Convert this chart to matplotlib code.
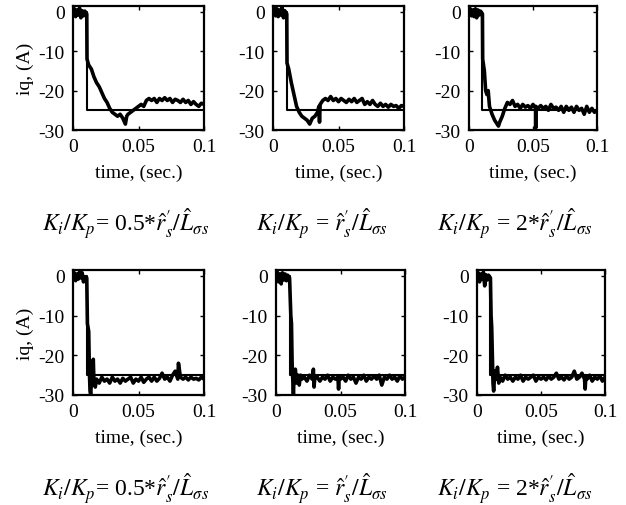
import matplotlib
matplotlib.use("Agg")
import matplotlib.pyplot as plt

plt.rcParams['font.family'] = ['Liberation Serif', 'DejaVu Serif']
plt.rcParams['mathtext.fontset'] = 'stix'
plt.rcParams['axes.unicode_minus'] = False

# reference step command
t_ref = [0, 0.0105, 0.0105, 0.1]
i_ref = [0, 0, -25, -25]

# measured iq, top row
t_a1 = [0, .001, .002, .003, .004, .005, .006, .007, .008, .009,
        .0105, .0107, .012, .014, .016, .018, .020, .022, .024, .026,
        .028, .030, .032, .034, .036, .038, .040, .041, .042, .044,
        .046, .048, .050, .052, .054, .056, .058, .060, .062, .064,
        .066, .068, .070, .072, .074, .076, .078, .080, .082, .084,
        .086, .088, .090, .092, .094, .096, .098, .100]
i_a1 = [-0.5, 0.8, -1.2, 0.5, -0.8, 1.0, -1.5, 0.3, -1.0, 0.2,
        -0.5, -12, -13.5, -14.5, -16.5, -18, -19, -20.5, -22, -23,
        -24.5, -25.5, -26, -26.5, -26, -27, -28.5, -26.5, -26, -25.5,
        -25, -24.5, -24, -23.5, -24, -22.5, -22, -22.5, -22, -23,
        -22, -22.5, -21.8, -22.5, -22, -23, -22.2, -22.5, -23, -22.2,
        -23, -22.5, -23.5, -22.8, -23.5, -24, -23.2, -23.5]

t_a2 = [0, .001, .002, .003, .004, .005, .006, .007, .008, .009,
        .0105, .0107, .012, .014, .016, .018, .020, .022, .024, .026,
        .028, .030, .032, .034, .035, .0355, .036, .038, .040, .042,
        .044, .046, .048, .050, .052, .054, .056, .058, .060, .062,
        .064, .066, .068, .070, .072, .074, .076, .078, .080, .082,
        .084, .086, .088, .090, .092, .094, .096, .098, .100]
i_a2 = [-0.5, 1.0, -1.0, 0.8, -1.2, 0.5, -0.8, 1.2, -1.5, 0.3,
        -0.5, -13, -14.5, -18, -21, -24, -25.5, -26.5, -27, -27.5,
        -28.5, -27, -26.5, -25.5, -24, -28, -23.5, -22.5, -22, -22.5,
        -21.5, -22.5, -22, -22.8, -22, -22.5, -23, -22.2, -22.8, -22,
        -23, -22.5, -22, -23.5, -22.8, -23.5, -22.5, -23.5, -24, -23.2,
        -24, -23.5, -24.2, -23.5, -24, -23.8, -24.5, -23.8, -24]

t_a3 = [0, .001, .002, .003, .004, .005, .006, .007, .008, .009,
        .0105, .0107, .012, .013, .014, .015, .016, .018, .020, .022,
        .023, .024, .026, .028, .030, .032, .034, .036, .038, .040,
        .042, .044, .046, .048, .050, .052, .0521, .0522, .054, .056,
        .058, .060, .062, .064, .066, .068, .070, .072, .074, .076,
        .078, .080, .082, .084, .086, .088, .090, .092, .094, .096,
        .098, .100]
i_a3 = [-0.5, 0.8, -1.0, 0.5, -1.2, 0.8, -1.5, 0.5, -0.8, 0.2,
        -0.5, -12, -15, -20, -21, -20, -24, -26, -27.5, -28.5,
        -29, -28, -26.5, -24.5, -23, -23.5, -22.5, -24, -23.5, -24.5,
        -23.5, -24.2, -23.8, -24.5, -23.5, -24.5, -29.5, -24, -24.5, -23.8,
        -24.5, -24, -25, -23.5, -24.5, -24.2, -25, -24, -25.5, -24,
        -25, -24.2, -25.5, -24, -25, -24.5, -26, -24, -25.5, -24.5,
        -25.5, -25]

# measured iq, bottom row
t_b1 = [0, .001, .002, .003, .004, .005, .006, .007, .008, .009,
        .0105, .011, .012, .0125, .013, .0135, .014, .015, .0155, .016,
        .017, .018, .020, .022, .024, .026, .028, .030, .032, .034,
        .036, .038, .040, .042, .044, .046, .048, .050, .052, .054,
        .056, .058, .060, .062, .064, .066, .068, .070, .072, .074,
        .076, .078, .080, .0805, .082, .084, .086, .088, .090, .092,
        .094, .096, .098, .100]
i_b1 = [-0.5, 0.8, -1.2, 0.5, -0.8, 1.0, -0.5, 0.8, -1.5, -0.2,
        -0.5, -12, -14, -24, -29, -30, -27, -22, -21, -27,
        -28, -26, -27, -25.5, -26.5, -26, -27, -25.5, -26.5, -26,
        -27, -25.8, -26.5, -26, -25.5, -27, -26, -26.5, -25.5, -26.8,
        -26, -25.5, -26.5, -25.5, -26.5, -25.8, -24.5, -26, -25.5, -26.5,
        -25, -24, -26, -22, -25.5, -26, -25.5, -26.2, -25.5, -26,
        -25.8, -26.2, -25.5, -26]

t_b2 = [0, .001, .002, .003, .004, .005, .006, .007, .008, .009,
        .0105, .0115, .012, .0125, .013, .0135, .014, .015, .016, .017,
        .018, .019, .020, .022, .024, .026, .028, .029, .0295, .030,
        .032, .034, .036, .038, .040, .042, .044, .046, .048, .0485,
        .049, .050, .052, .054, .056, .058, .060, .062, .064, .066,
        .068, .070, .072, .074, .076, .078, .080, .082, .084, .086,
        .088, .090, .092, .094, .096, .098, .100]
i_b2 = [-0.5, 1.0, -1.5, 0.5, -2.0, 0.8, -1.0, 0.5, -1.2, 0.2,
        -0.5, -10, -12, -22, -26, -30, -25, -23.5, -27, -25,
        -27.5, -25, -26, -25.5, -26.5, -25, -26, -23.5, -28, -26,
        -25.5, -26.5, -25.5, -26, -25, -26.5, -25.5, -26, -25.5, -28.5,
        -25.5, -26, -25.5, -26.5, -25, -26, -25.5, -27, -25.5, -26,
        -25, -26.5, -25.5, -26, -25.2, -26, -25, -27.5, -25.5, -26,
        -25, -26, -25.5, -26.5, -25.2, -26, -25.5]

t_b3 = [0, .001, .002, .003, .004, .005, .006, .007, .008, .009,
        .0105, .011, .0115, .012, .0125, .013, .014, .015, .016, .017,
        .018, .020, .022, .024, .026, .028, .030, .032, .034, .036,
        .038, .040, .042, .044, .046, .048, .050, .052, .054, .056,
        .058, .060, .062, .064, .066, .068, .070, .072, .074, .076,
        .078, .080, .082, .084, .0845, .085, .086, .088, .090, .092,
        .094, .096, .098, .100]
i_b3 = [-0.5, 0.8, -1.5, 0.5, -0.8, 1.0, -2.5, 0.3, -1.0, 0.2,
        -0.5, -10, -13, -20, -27, -29, -24, -26, -23, -27,
        -25.5, -26.5, -25, -26, -25.5, -26.5, -25.5, -26, -25, -26.5,
        -25.5, -26, -25.5, -25, -26.5, -25.5, -26, -25.5, -26.2, -25.2,
        -26, -25.5, -24.5, -26, -25.5, -26.2, -25.2, -26, -25.5, -24,
        -26, -25.5, -24.5, -26, -28.5, -25.5, -26, -25, -26.5, -25.5,
        -26, -25.2, -26.5, -25.5]

captions = [r"$K_i/K_p$= 0.5*$\hat{r}_s^{\prime}/\hat{L}_{\sigma s}$",
            r"$K_i/K_p$ = $\hat{r}_s^{\prime}/\hat{L}_{\sigma s}$",
            r"$K_i/K_p$ = 2*$\hat{r}_s^{\prime}/\hat{L}_{\sigma s}$"]

W, H = 626, 506
fig = plt.figure(figsize=(W / 100, H / 100), dpi=100)

# axes boxes in pixels: left, top, width, height
boxes = [(73, 7, 131, 124), (273, 7, 131, 124), (469, 7, 128, 124),
         (73, 271, 131, 125), (276, 271, 129, 125), (477, 271, 128, 125)]
data = [(t_a1, i_a1), (t_a2, i_a2), (t_a3, i_a3),
        (t_b1, i_b1), (t_b2, i_b2), (t_b3, i_b3)]
cap_x = [126, 322, 515]
cap_y = [232, 497]

for k, ((l, t, w, h), (tt, ii)) in enumerate(zip(boxes, data)):
    ax = fig.add_axes([l / W, 1 - (t + h) / H, w / W, h / H])
    ax.plot(t_ref, i_ref, color='black', lw=1.5)
    ax.plot(tt, ii, color='black', lw=2.6, solid_joinstyle='round')
    ax.set_xlim(0, 0.1)
    ax.set_ylim(-30, 1.5)
    ax.set_xticks([0, 0.05, 0.1])
    ax.set_xticklabels(['0', '0.05', '0.1'])
    ax.set_yticks([0, -10, -20, -30])
    ax.tick_params(direction='in', top=True, right=True, length=3,
                   width=1, labelsize=14, pad=6)
    for s in ax.spines.values():
        s.set_linewidth(1.6)
    ax.set_xlabel('time, (sec.)', fontsize=14, labelpad=6)
    if k % 3 == 0:
        ax.set_ylabel('iq, (A)', fontsize=14, labelpad=3)
    fig.text(cap_x[k % 3] / W, 1 - cap_y[k // 3] / H, captions[k % 3],
             fontsize=17, ha='center', va='baseline')

fig.savefig('out.png', dpi=100)
